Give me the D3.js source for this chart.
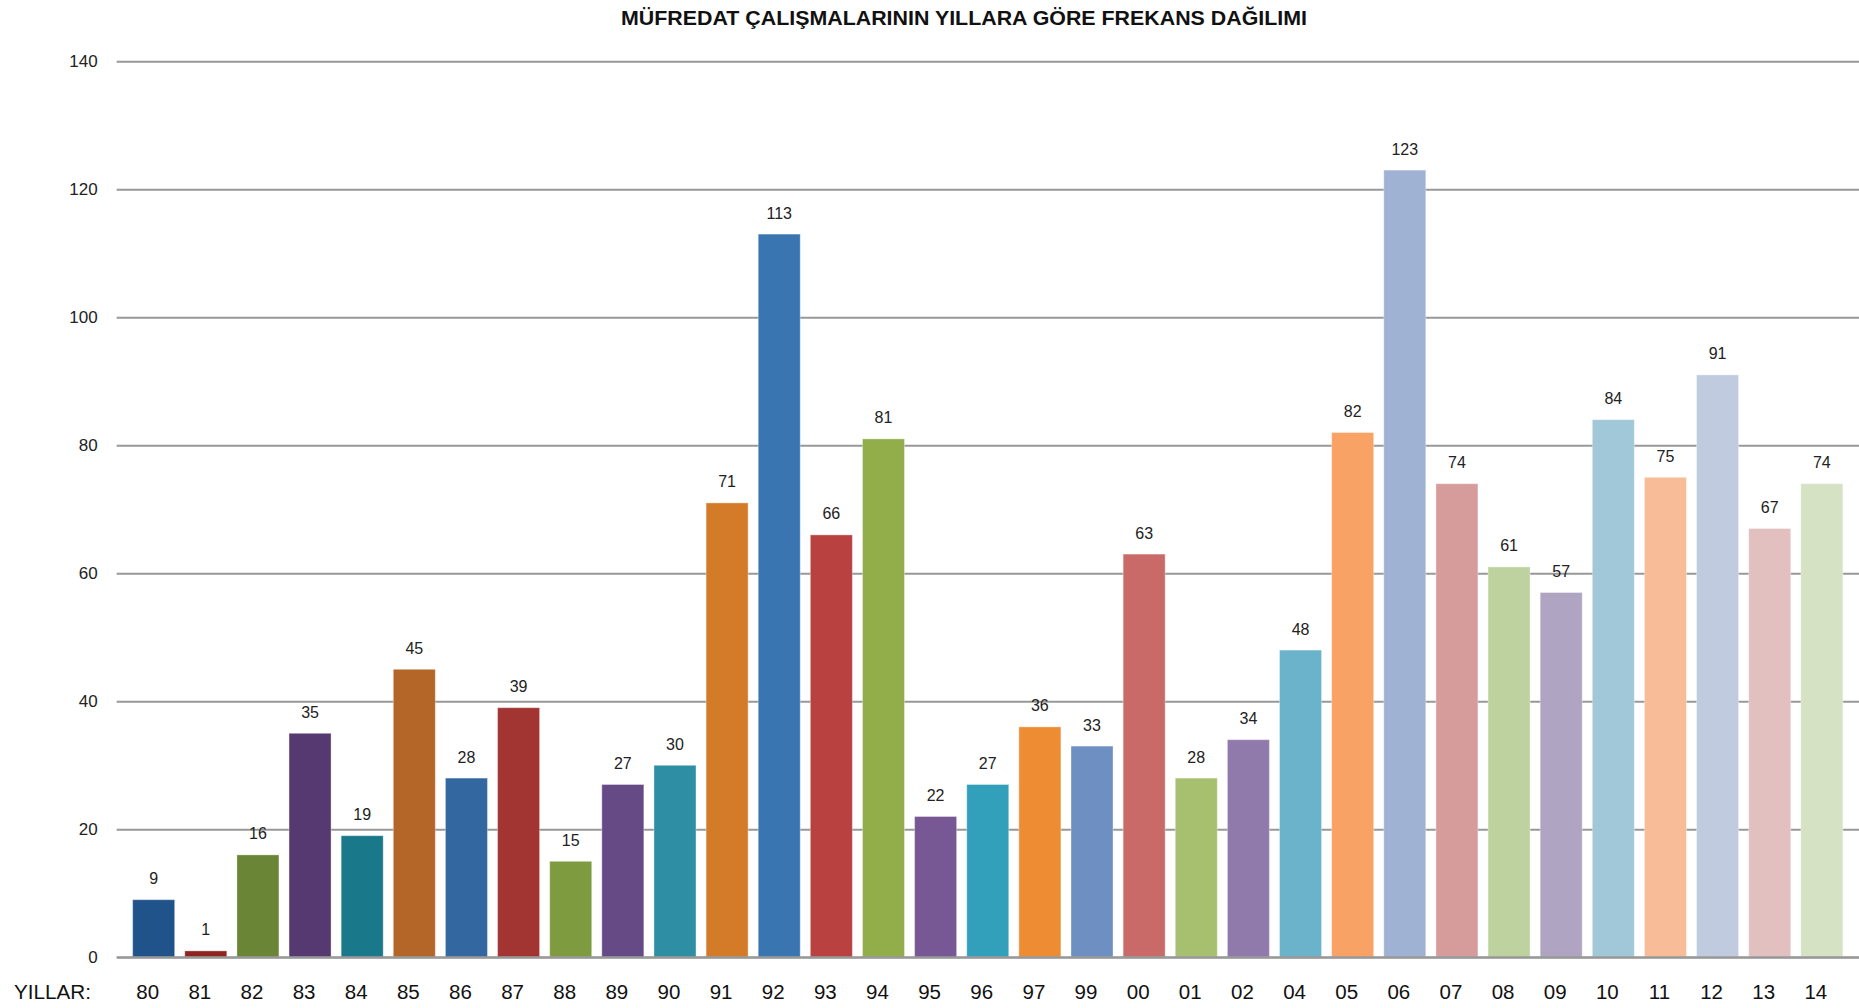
<!DOCTYPE html>
<html>
<head>
<meta charset="utf-8">
<script src="https://cdn.jsdelivr.net/npm/d3@7"></script>
<style>
  html, body { margin: 0; padding: 0; background: #fff; }
  svg { display: block; }
</style>
</head>
<body>
<svg id="chart" width="1859" height="1008"></svg>
<script>
const titleText = "MÜFREDAT ÇALIŞMALARININ YILLARA GÖRE FREKANS DAĞILIMI";
const years = ["80","81","82","83","84","85","86","87","88","89","90","91","92","93","94","95","96","97","99","00","01","02","04","05","06","07","08","09","10","11","12","13","14"];
const counts = [9,1,16,35,19,45,28,39,15,27,30,71,113,66,81,22,27,36,33,63,28,34,48,82,123,74,61,57,84,75,91,67,74];
const barColors = ["#20538a","#8e2320","#6a8535","#553970","#19788a","#b36627","#32679f","#a23432","#7f9b3f","#654a85","#2e8ea3","#d47b29","#3975b1","#b9413f","#91ae4b","#775794","#33a0bb","#ee8c33","#6d8fc2","#c96a69","#a6c070","#907aab","#6bb3cb","#f9a265","#9fb2d3","#d69c9b","#bed29f","#afa4c1","#a0c8d8","#f8bc98","#c0cbe0","#e1c0bf","#d5e2c3"];
const yTicks = [0,20,40,60,80,100,120,140];
const xAxisTitle = "YILLAR:";

const svg = d3.select("#chart");
const font = "'Liberation Sans', Arial, sans-serif";

const x = d3.scaleBand().domain(years).range([127.6, 1847.9]).paddingInner(0.194).paddingOuter(0.097);
const y = d3.scaleLinear().domain([0, 140]).range([957.3, 61.3]);

// gridlines
const yAxis = d3.axisLeft(y).tickValues(yTicks).tickSize(-(1859 - 116.7)).tickPadding(19).tickFormat(d3.format("d"));
const gy = svg.append("g").attr("transform", "translate(116.7,0)").call(yAxis);
gy.select(".domain").remove();
gy.selectAll(".tick line").attr("stroke", "#989898").attr("stroke-width", 2);
gy.selectAll(".tick text").attr("font-family", font).attr("font-size", 17).attr("fill", "#222");

// bars
svg.append("g").selectAll("rect").data(years).join("rect")
  .attr("x", d => x(d))
  .attr("y", (d, i) => y(counts[i]))
  .attr("width", x.bandwidth())
  .attr("height", (d, i) => y(0) - y(counts[i]))
  .attr("fill", (d, i) => barColors[i])
  .attr("stroke", "rgba(255,255,255,0.35)")
  .attr("stroke-width", 1);

// zero axis line on top
svg.append("line").attr("x1", 116.7).attr("x2", 1859).attr("y1", y(0)).attr("y2", y(0))
  .attr("stroke", "#989898").attr("stroke-width", 2);

// value labels
svg.append("g").selectAll("text").data(years).join("text")
  .attr("x", d => x(d) + x.bandwidth() / 2)
  .attr("y", (d, i) => y(counts[i]) - 15.5)
  .attr("text-anchor", "middle")
  .attr("font-family", font).attr("font-size", 16).attr("fill", "#222")
  .text((d, i) => counts[i]);

// x axis labels
const xAxis = d3.axisBottom(x).tickSize(0).tickPadding(0);
const gx = svg.append("g").attr("transform", "translate(-6," + 999 + ")").call(xAxis);
gx.select(".domain").remove();
gx.selectAll(".tick text").attr("font-family", font).attr("font-size", 20.5).attr("fill", "#111")
  .attr("dy", 0).attr("y", 0);

svg.append("text").attr("x", 14).attr("y", 999)
  .attr("font-family", font).attr("font-size", 20.5).attr("fill", "#111")
  .attr("textLength", 77).attr("lengthAdjust", "spacingAndGlyphs")
  .text(xAxisTitle);

// title
svg.append("text").attr("x", 621).attr("y", 25)
  .attr("font-family", font).attr("font-size", 21).attr("font-weight", "bold").attr("fill", "#111")
  .attr("textLength", 686).attr("lengthAdjust", "spacingAndGlyphs")
  .text(titleText);
</script>
</body>
</html>
